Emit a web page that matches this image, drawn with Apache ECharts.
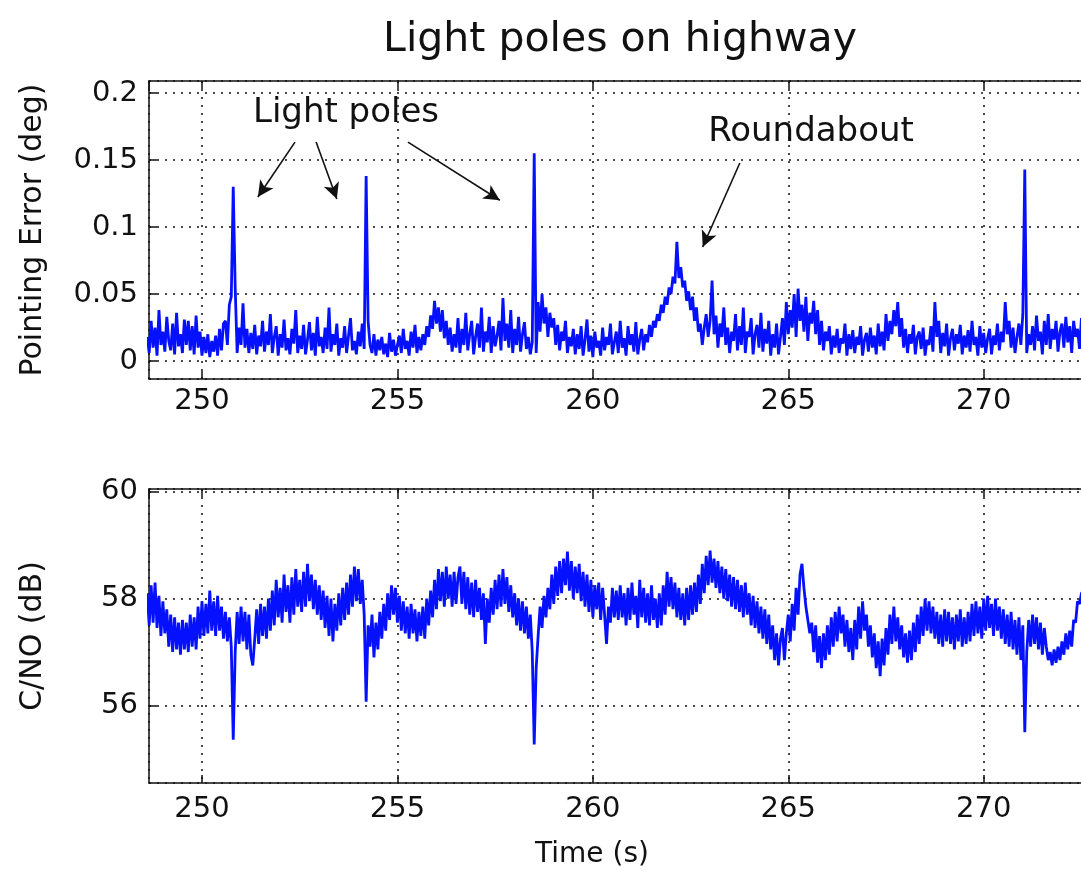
<!DOCTYPE html>
<html>
<head>
<meta charset="utf-8">
<script src="https://cdn.jsdelivr.net/npm/echarts@6/dist/echarts.min.js"></script>
<style>
html,body{margin:0;padding:0;background:#fff;}
#chart{width:1081px;height:871px;}
</style>
</head>
<body>
<div id="chart"></div>
<script>
// Sampling: first sample time and spacing (s)
const timeStart = 248.6;
const timeStep = 0.05;

// Pointing error (deg), one row per second starting at 248.6 s
const pointingError = [
0.018,0.006,0.030,0.010,0.025,0.004,0.038,0.012,0.022,0.007,0.033,0.015,0.008,0.028,0.005,0.036,0.011,0.020,0.006,0.031,
0.012,0.030,0.008,0.026,0.005,0.034,0.010,0.022,0.004,0.018,0.006,0.020,0.003,0.015,0.007,0.019,0.004,0.024,0.008,0.028,
0.030,0.012,0.042,0.048,0.130,0.055,0.006,0.025,0.012,0.043,0.010,0.024,0.006,0.021,0.009,0.027,0.005,0.019,0.011,0.030,
0.007,0.022,0.012,0.035,0.006,0.018,0.026,0.004,0.020,0.010,0.031,0.008,0.017,0.005,0.024,0.013,0.038,0.006,0.019,0.009,
0.027,0.005,0.016,0.029,0.008,0.021,0.004,0.033,0.011,0.018,0.006,0.025,0.009,0.040,0.007,0.020,0.012,0.028,0.004,0.017,
0.010,0.026,0.006,0.019,0.032,0.008,0.015,0.005,0.022,0.011,0.028,0.009,0.138,0.030,0.012,0.006,0.020,0.004,0.016,0.008,
0.018,0.005,0.013,0.003,0.021,0.007,0.016,0.004,0.012,0.019,0.006,0.024,0.009,0.015,0.004,0.022,0.010,0.027,0.006,0.018,
0.008,0.020,0.012,0.026,0.018,0.034,0.024,0.045,0.028,0.040,0.022,0.038,0.017,0.030,0.012,0.025,0.007,0.020,0.010,0.032,
0.006,0.024,0.012,0.036,0.008,0.020,0.030,0.005,0.018,0.028,0.010,0.040,0.007,0.022,0.014,0.033,0.006,0.026,0.011,0.019,
0.030,0.008,0.047,0.015,0.028,0.010,0.038,0.006,0.024,0.012,0.033,0.007,0.020,0.029,0.009,0.018,0.005,0.014,0.155,0.006,
0.044,0.022,0.050,0.028,0.040,0.018,0.036,0.025,0.032,0.012,0.027,0.008,0.022,0.015,0.030,0.006,0.018,0.011,0.024,0.005,
0.020,0.009,0.026,0.004,0.016,0.031,0.007,0.019,0.003,0.022,0.010,0.015,0.004,0.025,0.008,0.018,0.012,0.028,0.005,0.014,
0.022,0.006,0.030,0.010,0.017,0.004,0.026,0.012,0.020,0.007,0.029,0.005,0.016,0.024,0.008,0.020,0.014,0.027,0.018,0.030,
0.025,0.035,0.030,0.042,0.036,0.048,0.042,0.055,0.050,0.063,0.058,0.089,0.062,0.070,0.055,0.060,0.045,0.052,0.038,0.048,
0.030,0.040,0.022,0.028,0.012,0.025,0.035,0.018,0.030,0.060,0.020,0.034,0.010,0.028,0.018,0.040,0.012,0.025,0.006,0.022,
0.015,0.035,0.008,0.026,0.012,0.040,0.006,0.022,0.018,0.032,0.005,0.020,0.027,0.010,0.036,0.007,0.024,0.013,0.030,0.004,
0.020,0.010,0.028,0.005,0.018,0.032,0.012,0.044,0.020,0.038,0.025,0.050,0.018,0.054,0.030,0.042,0.022,0.048,0.015,0.036,
0.028,0.045,0.020,0.038,0.012,0.030,0.008,0.022,0.015,0.026,0.005,0.019,0.010,0.024,0.006,0.017,0.013,0.028,0.004,0.020,
0.009,0.023,0.006,0.018,0.012,0.026,0.004,0.016,0.021,0.007,0.025,0.010,0.019,0.005,0.028,0.011,0.022,0.008,0.035,0.015,
0.030,0.020,0.038,0.026,0.044,0.018,0.032,0.010,0.024,0.006,0.020,0.013,0.027,0.005,0.018,0.022,0.009,0.025,0.004,0.016,
0.012,0.026,0.007,0.044,0.018,0.030,0.006,0.021,0.011,0.028,0.004,0.017,0.024,0.008,0.020,0.013,0.027,0.005,0.019,0.010,
0.023,0.007,0.030,0.012,0.018,0.004,0.026,0.010,0.021,0.006,0.017,0.024,0.005,0.019,0.012,0.028,0.008,0.022,0.014,0.044,
0.020,0.030,0.010,0.025,0.006,0.018,0.028,0.012,0.035,0.143,0.006,0.020,0.012,0.026,0.008,0.034,0.015,0.022,0.005,0.030,
0.012,0.035,0.009,0.024,0.016,0.030,0.007,0.022,0.028,0.010,0.033,0.014,0.026,0.006,0.030,0.018,0.024,0.009,0.032,0.015
];

// C/N0 (dB), one row per second starting at 248.6 s
const cn0 = [
58.10,57.50,58.25,57.55,58.30,57.45,58.05,57.30,57.95,57.35,57.80,57.10,57.70,57.00,57.65,57.05,57.55,56.95,57.60,57.05,
57.55,57.00,57.70,57.10,57.65,57.05,57.85,57.25,57.95,57.30,57.90,57.35,58.15,57.40,57.95,57.30,58.05,57.40,57.85,57.25,
57.75,57.20,57.65,57.10,55.36,57.00,57.75,57.15,57.85,57.20,57.75,57.05,57.70,56.95,56.75,57.25,57.80,57.15,57.90,57.30,
57.85,57.25,58.00,57.40,58.15,57.50,58.35,57.65,58.20,57.55,58.45,57.75,58.25,57.55,58.40,57.70,58.55,57.85,58.35,57.75,
58.50,57.85,58.65,57.95,58.45,57.80,58.35,57.70,58.25,57.60,58.15,57.45,58.05,57.30,58.00,57.20,57.90,57.40,58.10,57.50,
58.20,57.60,58.30,57.70,58.45,57.85,58.60,57.95,58.55,57.90,58.35,57.70,56.07,57.50,57.10,57.70,56.90,57.55,57.05,57.75,
57.25,57.90,57.40,58.10,57.60,58.25,57.70,58.20,57.55,58.05,57.40,57.95,57.35,57.85,57.25,57.90,57.35,57.80,57.20,57.75,
57.30,57.85,57.25,58.00,57.50,58.15,57.65,58.35,57.80,58.55,57.95,58.50,57.85,58.60,58.00,58.45,57.85,58.50,57.90,58.40,
58.60,57.90,58.50,57.80,58.40,57.70,58.30,57.65,58.35,57.75,58.20,57.60,58.10,57.15,58.00,57.55,58.20,57.70,58.35,57.80,
58.45,57.85,58.55,57.90,58.40,57.75,58.25,57.65,58.10,57.50,58.00,57.40,57.95,57.35,57.85,57.25,57.70,57.00,55.27,56.70,
57.30,57.85,57.45,58.05,57.65,58.20,57.80,58.45,57.90,58.60,58.05,58.70,58.10,58.75,58.25,58.88,58.15,58.70,58.00,58.60,
58.10,58.65,57.95,58.50,57.85,58.45,57.75,58.35,57.65,58.25,57.80,58.30,57.60,58.20,57.70,57.15,57.85,57.55,58.20,57.65,
58.15,57.60,58.25,57.65,58.10,57.50,58.20,57.60,58.30,57.70,58.05,57.45,58.35,57.65,58.20,57.55,58.10,57.50,58.25,57.60,
58.00,57.45,58.10,57.50,58.25,57.70,58.50,57.85,58.40,57.80,58.30,57.65,58.20,57.60,58.10,57.50,58.20,57.60,58.25,57.70,
58.30,57.75,58.45,57.90,58.65,58.10,58.80,58.25,58.90,58.30,58.75,58.20,58.70,58.10,58.60,58.00,58.55,57.95,58.45,57.85,
58.40,57.80,58.35,57.75,58.25,57.65,58.30,57.70,58.10,57.50,58.05,57.45,57.95,57.35,57.85,57.25,57.80,57.15,57.70,57.05,
57.50,56.85,57.35,56.75,57.25,57.45,56.85,57.35,57.70,57.20,57.90,57.40,58.20,57.70,58.45,58.65,58.20,57.85,57.85,57.35,
57.55,57.00,57.50,56.80,57.30,56.70,57.35,56.85,57.50,56.95,57.65,57.10,57.75,57.20,57.85,57.35,57.70,57.10,57.60,57.00,
57.45,56.85,57.60,57.05,57.85,57.25,57.95,57.40,57.70,57.10,57.50,56.90,57.35,56.70,57.20,56.55,57.25,56.75,57.45,56.95,
57.70,57.15,57.85,57.20,57.65,57.05,57.50,56.90,57.35,56.80,57.40,56.85,57.55,57.00,57.70,57.15,57.85,57.30,58.00,57.40,
57.95,57.35,57.85,57.25,57.75,57.15,57.70,57.10,57.80,57.20,57.75,57.15,57.65,57.05,57.70,57.20,57.80,57.10,57.65,57.15,
57.75,57.20,57.90,57.30,57.95,57.35,57.85,57.25,58.00,57.40,58.05,57.45,57.90,57.30,58.00,57.40,57.85,57.25,57.80,57.15,
57.70,57.10,57.75,57.05,57.60,56.95,57.65,56.85,57.50,55.50,57.00,57.60,57.10,57.70,57.15,57.65,57.05,57.55,56.95,57.45,
57.10,56.85,57.00,56.75,57.05,56.80,57.10,56.85,57.20,56.95,57.35,57.05,57.40,57.10,57.60,57.55,57.95,57.90,58.10,58.15
];

// Annotation arrows (data coordinates: [time, value])
const lightPoleArrows = [
  [[252.38, 0.1634], [251.43, 0.1224]],
  [[252.92, 0.1634], [253.45, 0.1209]],
  [[255.27, 0.1634], [257.62, 0.1200]]
];
const roundaboutArrow = [[263.76, 0.1478], [262.81, 0.0851]];

const title = 'Light poles on highway';
const topYName = 'Pointing Error (deg)';
const bottomYName = 'C/NO (dB)';
const xName = 'Time (s)';

const topPairs = pointingError.map((v, i) => [+(timeStart + i * timeStep).toFixed(2), v]);
const botPairs = cn0.map((v, i) => [+(timeStart + i * timeStep).toFixed(2), v]);

const FONT = 'DejaVu Sans, Liberation Sans, Arial, sans-serif';
// x range continues past the right edge of the picture (the right frame is cut off)
const xMin = 248.645, xMax = 273.0;
const pxPerSec = 39.1;
const gridW = Math.round((xMax - xMin) * pxPerSec);

const splitLine = { show: true, lineStyle: { color: '#111', type: [2, 6], width: 1.5 } };
const lab = { color: '#111', fontSize: 29, fontFamily: FONT };
const axisLine = { show: true, onZero: false, lineStyle: { color: '#111', width: 1.5 } };
const axisTick = { show: true, inside: true, length: 8, lineStyle: { color: '#111', width: 1.5 } };

function xAx(gi, pos, labels, margin) {
  return {
    type: 'value', gridIndex: gi, position: pos, min: xMin, max: xMax,
    axisLine: axisLine, axisTick: axisTick,
    axisLabel: Object.assign({ show: labels, margin: margin, showMinLabel: false, showMaxLabel: false }, lab),
    splitLine: pos === 'bottom' ? splitLine : { show: false }
  };
}

function yAx(gi, min, max, split, name) {
  return {
    type: 'value', gridIndex: gi, min: min, max: max, splitNumber: split,
    name: name, nameLocation: 'middle', nameGap: 101, nameRotate: 90,
    nameTextStyle: { fontSize: 30, fontFamily: FONT, color: '#111' },
    axisLine: axisLine, axisTick: axisTick,
    axisLabel: Object.assign({ margin: 11, showMinLabel: false, showMaxLabel: false }, lab),
    splitLine: splitLine
  };
}

const option = {
  backgroundColor: '#fff',
  animation: false,
  graphic: [
    { type: 'text', x: 620, y: 40, style: { text: title, fontSize: 41, fontFamily: FONT, fill: '#111', align: 'center', verticalAlign: 'middle' } },
    { type: 'text', x: 346, y: 113, style: { text: 'Light poles', fontSize: 34, fontFamily: FONT, fill: '#111', align: 'center', verticalAlign: 'middle' } },
    { type: 'text', x: 811, y: 132, style: { text: 'Roundabout', fontSize: 34, fontFamily: FONT, fill: '#111', align: 'center', verticalAlign: 'middle' } }
  ],
  grid: [
    { left: 149, top: 81, width: gridW, height: 298, show: false, outerBoundsMode: 'none', containLabel: false },
    { left: 149, top: 489, width: gridW, height: 294, show: false, outerBoundsMode: 'none', containLabel: false }
  ],
  xAxis: [
    xAx(0, 'bottom', true, 8),
    xAx(1, 'bottom', true, 12),
    xAx(0, 'top', false, 8),
    xAx(1, 'top', false, 8)
  ],
  yAxis: [
    yAx(0, -0.0134, 0.209, 5, topYName),
    yAx(1, 54.55, 60.05, 3, bottomYName)
  ],
  series: [
    {
      type: 'line', xAxisIndex: 0, yAxisIndex: 0, data: topPairs, showSymbol: false,
      lineStyle: { color: '#0510ff', width: 2.8 }, z: 3,
      markLine: {
        silent: true, animation: false, symbol: ['none', 'arrow'], symbolSize: [12, 16],
        label: { show: false },
        lineStyle: { color: '#111', width: 1.6, type: 'solid' },
        data: lightPoleArrows.concat([roundaboutArrow]).map(a => [{ coord: a[0] }, { coord: a[1] }])
      }
    },
    {
      type: 'line', xAxisIndex: 1, yAxisIndex: 1, data: botPairs, showSymbol: false,
      lineStyle: { color: '#0510ff', width: 2.8 }, z: 3
    }
  ]
};
// x axis title only on bottom panel, centred at t = 260 s
option.xAxis[1].name = xName;
option.xAxis[1].nameLocation = 'middle';
option.xAxis[1].nameGap = 58;
option.xAxis[1].nameTextStyle = { fontSize: 28, fontFamily: FONT, color: '#111', padding: [0, gridW - 2 * (592 - 149), 0, 0] };

const chart = echarts.init(document.getElementById('chart'), null, { renderer: 'canvas' });
chart.setOption(option);
</script>
</body>
</html>
